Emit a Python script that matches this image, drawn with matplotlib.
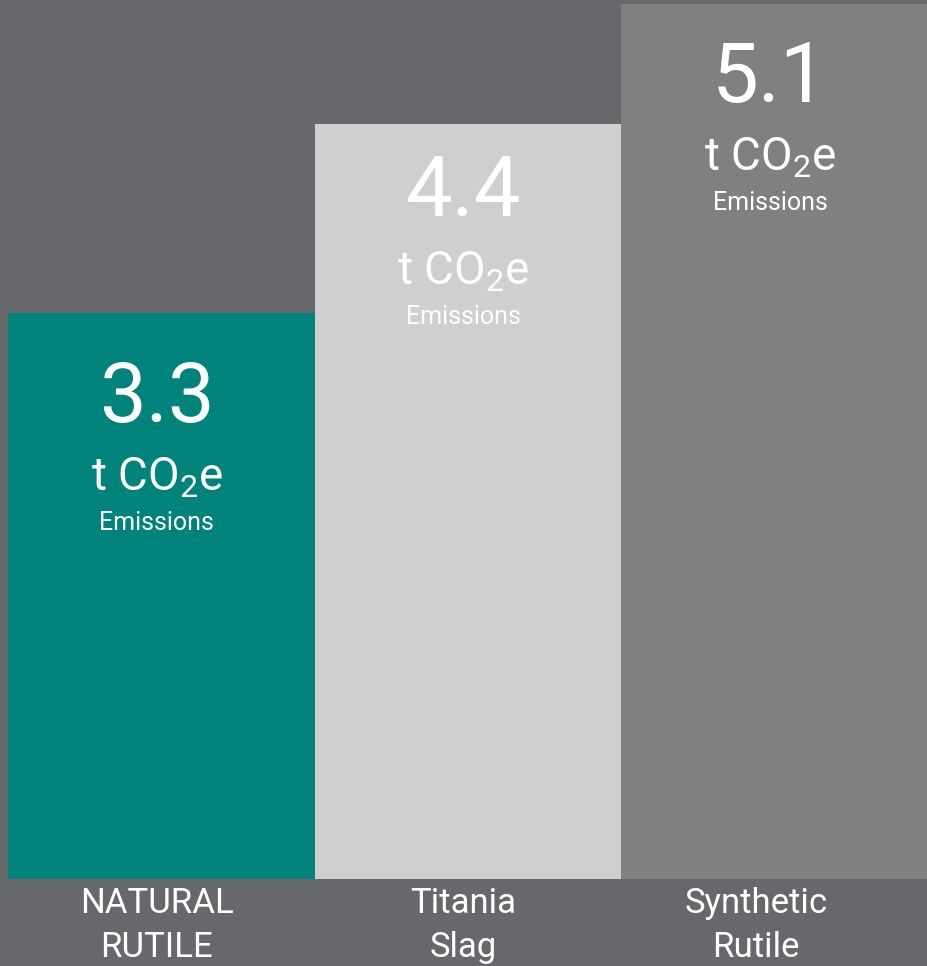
import matplotlib.pyplot as plt
from matplotlib import font_manager

categories = ["NATURAL\nRUTILE", "Titania\nSlag", "Synthetic\nRutile"]
emissions = [3.3, 4.4, 5.1]
value_labels = ["3.3", "4.4", "5.1"]
unit_label = "t CO$_2$e"
sub_label = "Emissions"

bar_colors = ["#00837b", "#d0cecf", "#808080"]
bg_color = "#66686b"
# how far (px) below the bar top each text block starts
text_drop = [17, 0, 6]

fams = [f.name for f in font_manager.fontManager.ttflist]
font = "Liberation Sans Narrow" if "Liberation Sans Narrow" in fams else "Roboto"
plt.rcParams["font.family"] = [font, "DejaVu Sans"]
plt.rcParams["mathtext.default"] = "regular"

dpi = 100
W, H = 928, 966
fig = plt.figure(figsize=(W / dpi, H / dpi), dpi=dpi)
fig.patch.set_facecolor(bg_color)

# axes spans from x=8 to the right edge, bottom at y=879, top at y=2
ax = fig.add_axes([8 / W, (H - 879) / H, 920 / W, 877 / H])
ax.set_facecolor("none")
x = list(range(len(categories)))
ax.bar(x, emissions, width=1.0, color=bar_colors, edgecolor="none")
ax.set_xlim(-0.5, 2.5)
ax.set_ylim(0, 5.11)
ax.axis("off")

px = 72 / dpi
for i, v in enumerate(emissions):
    d = text_drop[i]
    ax.annotate(value_labels[i], xy=(i - 0.015, v), xytext=(0, -(92 + d) * px),
                textcoords="offset points", ha="center", va="baseline",
                fontsize=60, color="white")
    ax.annotate(unit_label, xy=(i - 0.015, v), xytext=(0, -(161 + d) * px),
                textcoords="offset points", ha="center", va="baseline",
                fontsize=33, color="white")
    ax.annotate(sub_label, xy=(i - 0.015, v), xytext=(0, -(200 + d) * px),
                textcoords="offset points", ha="center", va="baseline",
                fontsize=18, color="white")

lab_shift = [-0.015, -0.015, -0.06]
for i, c in enumerate(categories):
    ax.annotate(c, xy=(i + lab_shift[i], 0), xytext=(0, -8 * px),
                textcoords="offset points", ha="center", va="top",
                fontsize=25, color="white", linespacing=1.42)

fig.savefig("out.png", dpi=dpi, facecolor=bg_color)
